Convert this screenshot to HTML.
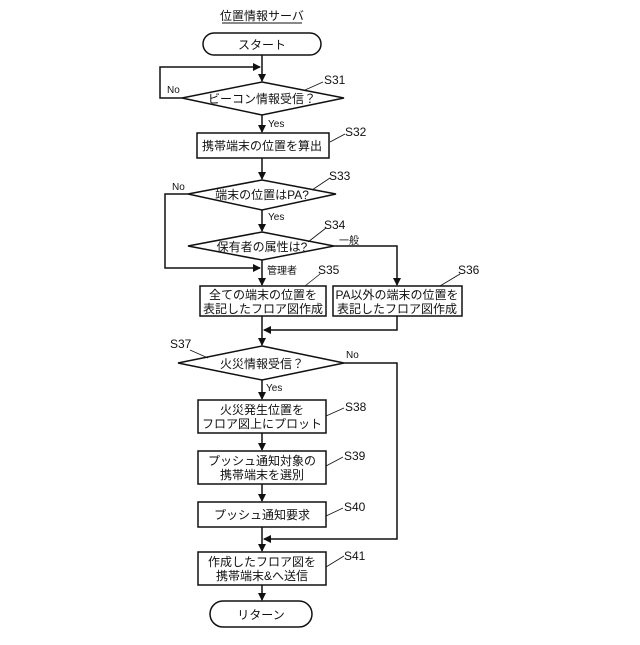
<!DOCTYPE html>
<html><head><meta charset="utf-8"><style>
html,body{margin:0;padding:0;background:#fff}
svg text{font-family:"Liberation Sans","Noto Sans CJK JP",sans-serif;fill:#111}
</style></head><body>
<svg width="640" height="640" viewBox="0 0 640 640" xmlns="http://www.w3.org/2000/svg">
<defs><marker id="a" markerWidth="8" markerHeight="8" refX="7" refY="4" orient="auto" markerUnits="userSpaceOnUse"><path d="M0,0 L8,4 L0,8 z" fill="#111"/></marker></defs>
<g stroke="#111" stroke-width="1.5" fill="none">
<line x1="222" y1="23" x2="302" y2="23" stroke-width="1"/>
<rect x="203" y="33" width="118" height="22" rx="11" fill="#fff"/>
<line x1="262" y1="55" x2="262" y2="81" marker-end="url(#a)"/>
<polyline points="182,98 160,98 160,67 260,67" marker-end="url(#a)"/>
<polygon points="262,82 344,98 262,115 182,98" fill="#fff"/>
<line x1="262" y1="115" x2="262" y2="132" marker-end="url(#a)"/>
<rect x="197" y="133" width="132" height="25" fill="#fff"/>
<line x1="262" y1="158" x2="262" y2="179" marker-end="url(#a)"/>
<polygon points="262,180 336,194 262,210 188,194" fill="#fff"/>
<polyline points="188,194 165,194 165,268 260,268" marker-end="url(#a)"/>
<line x1="262" y1="210" x2="262" y2="231" marker-end="url(#a)"/>
<polygon points="262,232 334,246 262,260 188,246" fill="#fff"/>
<polyline points="334,246 397,246 397,285" marker-end="url(#a)"/>
<line x1="262" y1="260" x2="262" y2="285" marker-end="url(#a)"/>
<rect x="200" y="286" width="126" height="30" fill="#fff"/>
<rect x="333" y="286" width="129" height="30" fill="#fff"/>
<line x1="262" y1="316" x2="262" y2="345" marker-end="url(#a)"/>
<polyline points="397,316 397,330 264,330" marker-end="url(#a)"/>
<polygon points="262,346 344,363 262,380 178,363" fill="#fff"/>
<polyline points="344,363 397,363 397,539 264,539" marker-end="url(#a)"/>
<line x1="262" y1="380" x2="262" y2="399" marker-end="url(#a)"/>
<rect x="198" y="400" width="128" height="33" fill="#fff"/>
<line x1="262" y1="433" x2="262" y2="450" marker-end="url(#a)"/>
<rect x="198" y="451" width="128" height="33" fill="#fff"/>
<line x1="262" y1="484" x2="262" y2="501" marker-end="url(#a)"/>
<rect x="198" y="502" width="128" height="25" fill="#fff"/>
<line x1="262" y1="527" x2="262" y2="551" marker-end="url(#a)"/>
<rect x="198" y="552" width="128" height="33" fill="#fff"/>
<line x1="262" y1="585" x2="262" y2="600" marker-end="url(#a)"/>
<rect x="210" y="601" width="102" height="26" rx="13" fill="#fff"/>
<g stroke-width="0.8">
<line x1="305" y1="90" x2="323" y2="82"/>
<line x1="330" y1="142" x2="345" y2="134"/>
<line x1="312" y1="190" x2="330" y2="178"/>
<line x1="308" y1="242" x2="326" y2="228"/>
<line x1="305" y1="286" x2="320" y2="274"/>
<line x1="440" y1="286" x2="460" y2="274"/>
<line x1="190" y1="350" x2="208" y2="358"/>
<line x1="326" y1="416" x2="344" y2="408"/>
<line x1="326" y1="466" x2="343" y2="457"/>
<line x1="326" y1="516" x2="343" y2="508"/>
<line x1="326" y1="567" x2="344" y2="556"/>
</g>
</g>
<g font-size="12" text-anchor="middle">
<text x="262" y="20">位置情報サーバ</text>
<text x="262" y="49">スタート</text>
<text x="262" y="103">ビーコン情報受信？</text>
<text x="262" y="150">携帯端末の位置を算出</text>
<text x="262" y="199">端末の位置はPA?</text>
<text x="262" y="251">保有者の属性は?</text>
<text x="263" y="299">全ての端末の位置を</text>
<text x="263" y="313">表記したフロア図作成</text>
<text x="397" y="299">PA以外の端末の位置を</text>
<text x="397" y="313">表記したフロア図作成</text>
<text x="262" y="368">火災情報受信？</text>
<text x="262" y="414">火災発生位置を</text>
<text x="262" y="428">フロア図上にプロット</text>
<text x="262" y="465">プッシュ通知対象の</text>
<text x="262" y="479">携帯端末を選別</text>
<text x="262" y="519">プッシュ通知要求</text>
<text x="262" y="566">作成したフロア図を</text>
<text x="262" y="580">携帯端末&amp;へ送信</text>
<text x="261" y="619">リターン</text>
</g>
<g font-size="10">
<text x="167" y="93">No</text>
<text x="268" y="127">Yes</text>
<text x="172" y="190">No</text>
<text x="268" y="220">Yes</text>
<text x="339" y="244">一般</text>
<text x="267" y="274">管理者</text>
<text x="346" y="358">No</text>
<text x="266" y="391">Yes</text>
</g>
<g font-size="12">
<text x="324" y="84">S31</text>
<text x="345" y="136">S32</text>
<text x="329" y="180">S33</text>
<text x="324" y="229">S34</text>
<text x="318" y="274">S35</text>
<text x="458" y="274">S36</text>
<text x="170" y="348">S37</text>
<text x="345" y="411">S38</text>
<text x="344" y="460">S39</text>
<text x="344" y="511">S40</text>
<text x="344" y="560">S41</text>
</g>
</svg>
</body></html>
